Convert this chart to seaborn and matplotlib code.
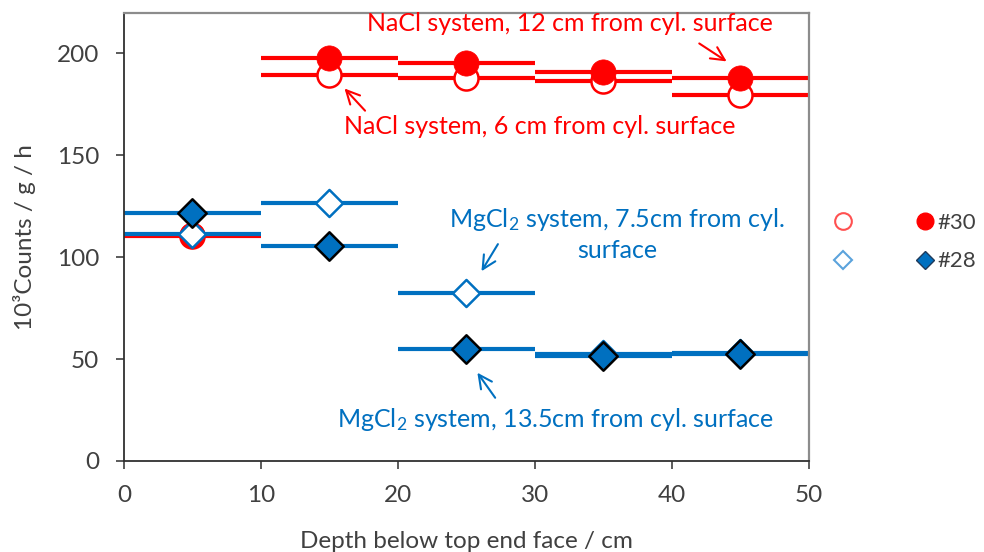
import numpy as np
import pandas as pd
import matplotlib
matplotlib.use("Agg")
import matplotlib.pyplot as plt
from matplotlib.lines import Line2D
import seaborn as sns

# Layer boundaries (depth below top end face, cm) and layer mid-points
layer_edges = [0, 10, 20, 30, 40, 50]
depth_mid = [5, 15, 25, 35, 45]

# 10^3 counts / g / h per layer
nacl_12cm = [111.0, 198.0, 195.5, 191.0, 188.0]     # #30, filled circles
nacl_6cm = [110.5, 189.5, 188.0, 186.5, 179.5]      # #30, open circles
mgcl2_7_5cm = [111.5, 126.5, 82.5, 52.5, 53.0]      # #28, open diamonds
mgcl2_13_5cm = [121.5, 105.5, 55.0, 51.5, 52.5]     # #28, filled diamonds

x_ticks = [0, 10, 20, 30, 40, 50]
y_ticks = [0, 50, 100, 150, 200]

RED = "#FF0000"
BLUE = "#0070C0"
TXT = "#404040"
FS = 17.5
FS_NOTE = 18
FS_LEG = 16

sns.set_theme(style="white")
plt.rcParams["font.family"] = ["Lato", "DejaVu Sans"]
plt.rcParams["mathtext.fontset"] = "custom"
plt.rcParams["mathtext.rm"] = "Lato"
plt.rcParams["mathtext.it"] = "Lato:italic"

fig = plt.figure(figsize=(9.84, 5.52), dpi=100)
ax = fig.add_axes([0.126, 0.165, 0.696, 0.812])

lo = layer_edges[:-1]
hi = layer_edges[1:]

# Layer-average step segments
for vals, col in [(nacl_6cm, RED), (nacl_12cm, RED),
                  (mgcl2_7_5cm, BLUE), (mgcl2_13_5cm, BLUE)]:
    ax.hlines(vals, lo, hi, colors=col, linewidth=3.0, zorder=2)

df = pd.DataFrame({
    "depth": depth_mid * 4,
    "value": nacl_6cm + nacl_12cm + mgcl2_7_5cm + mgcl2_13_5cm,
    "series": ["nacl6"] * 5 + ["nacl12"] * 5 + ["mg75"] * 5 + ["mg135"] * 5,
})

sns.scatterplot(data=df[df.series == "nacl6"], x="depth", y="value", ax=ax,
                marker="o", s=300, facecolor="white", edgecolor=RED,
                linewidth=1.8, zorder=3, legend=False)
sns.scatterplot(data=df[df.series == "nacl12"], x="depth", y="value", ax=ax,
                marker="o", s=330, color=RED, edgecolor=RED,
                linewidth=0.5, zorder=4, legend=False)
sns.scatterplot(data=df[df.series == "mg75"], x="depth", y="value", ax=ax,
                marker="D", s=190, facecolor="white", edgecolor=BLUE,
                linewidth=1.8, zorder=5, legend=False)
sns.scatterplot(data=df[df.series == "mg135"], x="depth", y="value", ax=ax,
                marker="D", s=210, color=BLUE, edgecolor="black",
                linewidth=1.8, zorder=6, legend=False)

ax.set_xlim(0, 50)
ax.set_ylim(0, 220)
ax.set_xticks(x_ticks)
ax.set_yticks(y_ticks)
ax.tick_params(axis="both", which="major", labelsize=FS, colors=TXT,
               direction="out", length=6, width=1.2, left=True, bottom=True)
ax.tick_params(axis="x", pad=11)
ax.tick_params(axis="y", pad=12)
ax.set_xlabel("Depth below top end face / cm", fontsize=FS, color=TXT,
              labelpad=18)
ax.set_ylabel("10³Counts / g / h", fontsize=FS, color=TXT, labelpad=15)

for side in ["left", "bottom"]:
    ax.spines[side].set_color("#303030")
    ax.spines[side].set_linewidth(1.3)
for side in ["top", "right"]:
    ax.spines[side].set_color("#8c8c8c")
    ax.spines[side].set_linewidth(1.6)

arrow_red = dict(arrowstyle="->,head_length=0.8,head_width=0.4",
                 color=RED, lw=1.5, shrinkA=0, shrinkB=0)
arrow_blue = dict(arrowstyle="->,head_length=0.8,head_width=0.4",
                  color=BLUE, lw=1.5, shrinkA=0, shrinkB=0)

ax.text(32.55, 214.8, "NaCl system, 12 cm from cyl. surface", color=RED,
        fontsize=FS_NOTE, ha="center", va="center")
ax.annotate("", xy=(44.0, 196.1), xytext=(42.0, 204.9), arrowprops=arrow_red)

ax.text(30.36, 164.0, "NaCl system, 6 cm from cyl. surface", color=RED,
        fontsize=FS_NOTE, ha="center", va="center")
ax.annotate("", xy=(16.1, 182.8), xytext=(17.6, 171.9), arrowprops=arrow_red)

ax.text(36.0, 111.3, "MgCl$_2$ system, 7.5cm from cyl.\nsurface", color=BLUE,
        fontsize=FS_NOTE, ha="center", va="center", linespacing=1.35)
ax.annotate("", xy=(26.1, 93.1), xytext=(27.3, 106.4), arrowprops=arrow_blue)

ax.text(31.5, 20.2, "MgCl$_2$ system, 13.5cm from cyl. surface", color=BLUE,
        fontsize=FS_NOTE, ha="center", va="center")
ax.annotate("", xy=(25.8, 43.3), xytext=(27.1, 31.0), arrowprops=arrow_blue)

handles = [
    Line2D([], [], ls="none", marker="o", ms=12, mfc="white", mec="#FF5050", mew=1.5),
    Line2D([], [], ls="none", marker="D", ms=9, mfc="white", mec="#5BA3DC", mew=1.5),
    Line2D([], [], ls="none", marker="o", ms=12, mfc=RED, mec=RED),
    Line2D([], [], ls="none", marker="D", ms=9, mfc=BLUE, mec="#1F3A5A", mew=1.0),
]
fig.legend(handles=handles, labels=["", "", "#30", "#28"], ncol=2,
           loc="center left", bbox_to_anchor=(0.8488, 0.5616), borderpad=0,
           borderaxespad=0, frameon=False, fontsize=FS_LEG, handlelength=0.7,
           handletextpad=0.2, columnspacing=2.8, labelspacing=0.85,
           labelcolor=TXT)

fig.savefig("out.png", dpi=100)
